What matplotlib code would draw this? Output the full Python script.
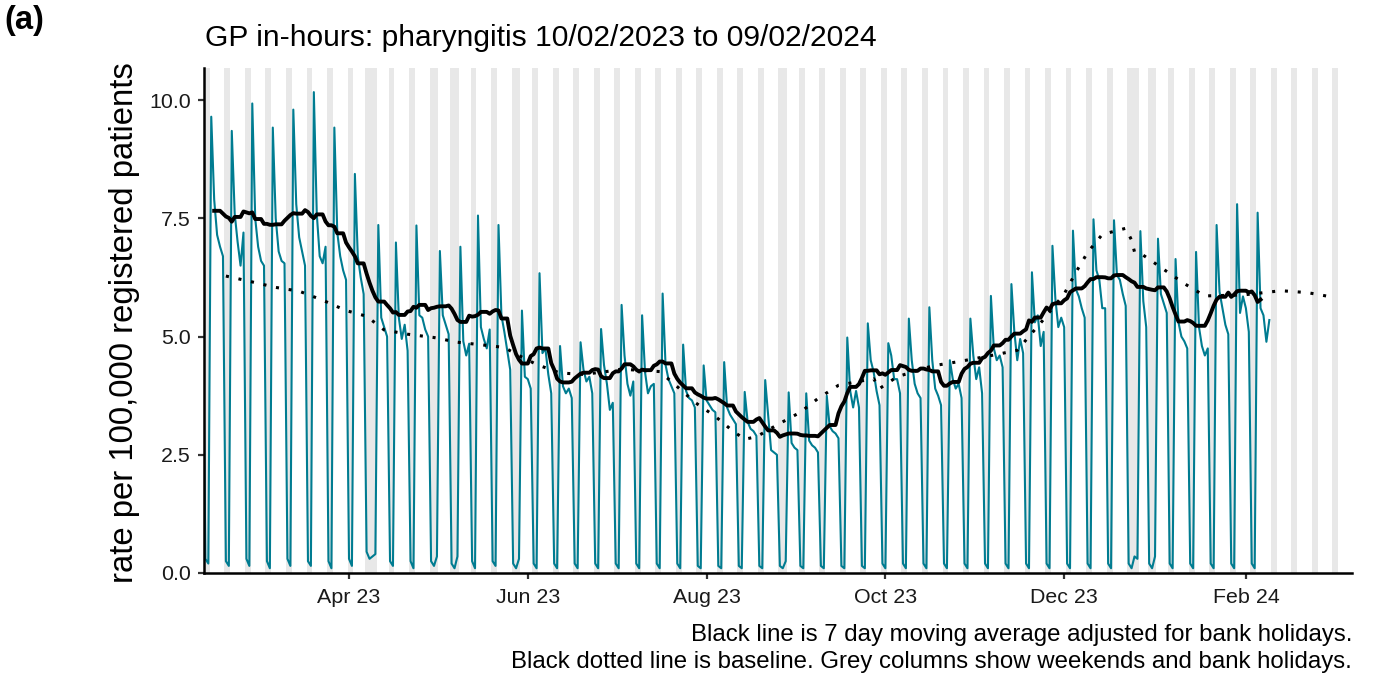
import numpy as np
import pandas as pd
import matplotlib
matplotlib.use("Agg")
import matplotlib.pyplot as plt
import matplotlib.dates as mdates

plt.rcParams['font.family'] = ['Liberation Sans', 'DejaVu Sans']

# ---------------- data ----------------
data_start = "2023-02-10"
# Fri 10 Feb, Sat 11 Feb, Sun 12 Feb
lead_days = [6.6, 0.3, 0.2]
# weekly values Mon..Sun, starting Mon 13 Feb 2023
weeks = [
    [9.65, 7.9, 7.15, 6.9, 6.7, 0.25, 0.15],
    [9.35, 7.6, 7.0, 6.5, 7.2, 0.3, 0.15],
    [9.93, 7.5, 6.9, 6.6, 6.5, 0.25, 0.1],
    [9.42, 7.5, 6.8, 6.6, 6.55, 0.3, 0.15],
    [9.80, 7.8, 7.1, 6.8, 6.5, 0.25, 0.15],
    [10.17, 7.6, 6.7, 6.55, 6.9, 0.25, 0.1],
    [9.42, 7.2, 6.7, 6.4, 6.2, 0.3, 0.15],
    [8.44, 6.7, 6.25, 5.9, 0.45, 0.3, 0.35],
    [0.4, 7.36, 5.4, 5.2, 5.0, 0.25, 0.15],
    [6.99, 5.4, 4.95, 5.25, 4.7, 0.25, 0.1],
    [7.35, 5.45, 5.4, 5.15, 5.0, 0.25, 0.15],
    [0.35, 6.81, 5.45, 5.25, 5.05, 0.2, 0.1],
    [0.35, 6.9, 4.9, 4.6, 4.85, 0.25, 0.1],
    [7.56, 5.2, 4.95, 4.75, 5.15, 0.25, 0.15],
    [7.36, 5.45, 5.1, 4.7, 4.3, 0.2, 0.1],
    [0.3, 5.55, 4.15, 4.1, 3.9, 0.2, 0.1],
    [6.34, 4.65, 4.75, 4.2, 3.8, 0.2, 0.1],
    [4.80, 3.95, 3.8, 3.9, 3.7, 0.2, 0.1],
    [4.88, 4.3, 4.05, 4.15, 3.8, 0.2, 0.1],
    [5.16, 4.4, 4.0, 3.45, 3.6, 0.2, 0.1],
    [5.67, 4.6, 4.0, 3.75, 4.05, 0.2, 0.1],
    [5.45, 4.25, 3.8, 3.95, 4.0, 0.2, 0.1],
    [5.91, 4.4, 4.1, 3.95, 3.8, 0.2, 0.1],
    [4.83, 3.85, 3.7, 3.65, 3.5, 0.15, 0.1],
    [4.39, 3.65, 3.55, 3.45, 3.4, 0.15, 0.1],
    [4.46, 3.5, 3.35, 3.25, 3.15, 0.15, 0.1],
    [3.83, 3.2, 3.05, 3.0, 2.9, 0.15, 0.1],
    [4.08, 3.35, 2.6, 2.55, 2.5, 0.15, 0.1],
    [0.25, 3.82, 2.75, 2.65, 2.6, 0.15, 0.1],
    [3.8, 2.8, 2.7, 2.65, 2.55, 0.15, 0.1],
    [3.75, 3.1, 3.0, 2.95, 2.85, 0.15, 0.1],
    [4.98, 3.85, 3.5, 3.85, 3.5, 0.15, 0.1],
    [5.28, 4.5, 4.25, 3.85, 3.55, 0.2, 0.1],
    [4.86, 4.6, 4.1, 4.1, 3.8, 0.2, 0.1],
    [5.38, 4.5, 4.0, 3.8, 3.7, 0.2, 0.1],
    [5.62, 4.5, 3.9, 3.75, 3.55, 0.2, 0.1],
    [4.50, 4.1, 3.9, 4.0, 3.7, 0.2, 0.1],
    [5.38, 4.6, 4.1, 4.35, 3.8, 0.2, 0.1],
    [5.86, 4.75, 4.5, 4.6, 4.35, 0.2, 0.1],
    [6.11, 5.1, 4.5, 4.95, 4.65, 0.2, 0.1],
    [6.36, 5.3, 5.45, 4.8, 5.1, 0.2, 0.1],
    [6.92, 5.8, 5.2, 5.4, 5.2, 0.2, 0.1],
    [7.24, 6.0, 5.85, 5.6, 5.4, 0.2, 0.1],
    [7.48, 6.4, 6.2, 5.6, 5.6, 0.2, 0.1],
    [7.46, 6.3, 6.2, 5.9, 5.65, 0.2, 0.1],
    [0.35, 0.3, 7.23, 5.75, 5.2, 0.2, 0.1],
    [0.35, 7.07, 5.9, 5.7, 5.5, 0.2, 0.1],
    [6.64, 5.3, 5.0, 4.9, 4.75, 0.2, 0.1],
    [6.79, 5.2, 4.8, 4.6, 4.75, 0.2, 0.1],
    [7.36, 5.95, 5.6, 5.25, 5.05, 0.2, 0.1],
    [7.80, 5.5, 5.85, 5.6, 5.1, 0.2, 0.1],
]
# Mon 5 Feb - Fri 9 Feb 2024
last_days = [7.62, 5.6, 5.45, 4.89, 5.35]

bank_holidays = ["2023-04-07", "2023-04-10", "2023-05-01", "2023-05-08",
                 "2023-05-29", "2023-08-28", "2023-12-25", "2023-12-26",
                 "2024-01-01"]
# bank-holiday adjusted values used for the moving average
# (bank holidays and the working day after them)
ma_adjust_dates = ["2023-04-07", "2023-04-10", "2023-04-11",
                   "2023-05-01", "2023-05-02", "2023-05-08", "2023-05-09",
                   "2023-05-29", "2023-05-30", "2023-08-28", "2023-08-29",
                   "2023-12-25", "2023-12-26", "2023-12-27",
                   "2024-01-01", "2024-01-02"]
ma_adjust_values = [5.45, 7.36, 5.74,
                    6.81, 5.64, 6.9, 5.3,
                    5.55, 4.45, 3.82, 2.93,
                    7.23, 6.1, 5.97,
                    7.07, 6.03]

baseline_dates = ['2023-02-18', '2023-02-26', '2023-03-07', '2023-03-15', '2023-03-23',
                  '2023-03-31', '2023-04-07', '2023-04-13', '2023-04-21', '2023-04-30',
                  '2023-05-08', '2023-05-17', '2023-05-24', '2023-05-28', '2023-06-04',
                  '2023-06-12', '2023-06-20', '2023-06-29', '2023-07-03', '2023-07-16',
                  '2023-07-22', '2023-07-28', '2023-08-04', '2023-08-10', '2023-08-14',
                  '2023-08-18', '2023-08-25', '2023-09-02', '2023-09-08', '2023-09-15',
                  '2023-09-27', '2023-09-29', '2023-10-05', '2023-10-17', '2023-10-26',
                  '2023-11-07', '2023-11-15', '2023-11-18', '2023-11-23', '2023-12-01',
                  '2023-12-05', '2023-12-09', '2023-12-14', '2023-12-22', '2023-12-24',
                  '2023-12-25', '2023-12-28', '2024-01-04', '2024-01-11', '2024-01-18',
                  '2024-01-31', '2024-02-13', '2024-02-22', '2024-03-02']
baseline_values = [6.28, 6.17, 6.04, 5.96, 5.77, 5.55, 5.43, 5.14, 5.05, 4.98,
                   4.88, 4.82, 4.77, 4.63, 4.41, 4.23, 4.20, 4.27, 4.31, 4.26,
                   3.94, 3.61, 3.31, 3.00, 2.83, 2.88, 3.13, 3.40, 3.69, 3.97,
                   4.11, 3.90, 4.15, 4.38, 4.47, 4.61, 4.71, 4.93, 5.29, 5.90,
                   6.36, 6.78, 7.16, 7.29, 7.04, 6.79, 6.72, 6.42, 6.12, 5.86,
                   5.88, 5.97, 5.93, 5.83]

shade_start, shade_end = "2023-02-11", "2024-03-03"
tick_dates = ["2023-04-01", "2023-06-01", "2023-08-01", "2023-10-01", "2023-12-01", "2024-02-01"]
tick_labels = ["Apr 23", "Jun 23", "Aug 23", "Oct 23", "Dec 23", "Feb 24"]
y_ticks = [0.0, 2.5, 5.0, 7.5, 10.0]

title = "GP in-hours: pharyngitis 10/02/2023 to 09/02/2024"
ylabel = "rate per 100,000 registered patients"
note1 = "Black line is 7 day moving average adjusted for bank holidays."
note2 = "Black dotted line is baseline. Grey columns show weekends and bank holidays."

# ---------------- build series ----------------
vals = list(lead_days) + [v for w in weeks for v in w] + list(last_days)
dates = pd.date_range(data_start, periods=len(vals), freq="D")
daily = pd.Series(vals, index=dates)
bh = pd.to_datetime(bank_holidays)
adjusted = daily.copy()
adjusted.loc[pd.to_datetime(ma_adjust_dates)] = ma_adjust_values
weekday = daily.index.weekday < 5
ma = adjusted.where(weekday).rolling(7, center=True, min_periods=1).mean()
ma.iloc[:4] = np.nan
ma.iloc[-3:] = np.nan

# ---------------- figure ----------------
W, H = 1386, 675
fig = plt.figure(figsize=(W / 100, H / 100), dpi=100)
L, R, T, B = 204, 1352, 68, 573
ax = fig.add_axes([L / W, (H - B) / H, (R - L) / W, (B - T) / H])

# grey columns
all_days = pd.date_range(shade_start, shade_end, freq="D")
bh_set = set(bh)
grey = [d for d in all_days if d.weekday() >= 5 or d in bh_set]
groups = []
for d in grey:
    if groups and (d - groups[-1][1]).days == 1:
        groups[-1][1] = d
    else:
        groups.append([d, d])
for a, b in groups:
    ax.axvspan(mdates.date2num(a) - 0.5, mdates.date2num(b) + 0.5,
               color="#E8E8E8", lw=0, zorder=0)

xd = mdates.date2num(daily.index)
ax.plot(xd, daily.values, color="#007C91", lw=1.5, zorder=2)
ax.plot(xd, ma.values, color="black", lw=2.8, zorder=3)
ax.plot(mdates.date2num(pd.to_datetime(baseline_dates)), baseline_values,
        color="black", lw=2.2, linestyle=(0, (1, 3.2)), zorder=4)

x0 = mdates.date2num(pd.Timestamp("2023-04-01")) + (L - 349) / 2.931
x1 = mdates.date2num(pd.Timestamp("2023-04-01")) + (R - 349) / 2.931
ax.set_xlim(x0, x1)
ax.set_ylim(0, 10.68)

ax.set_xticks(mdates.date2num(pd.to_datetime(tick_dates)))
ax.set_xticklabels(tick_labels)
ax.set_yticks(y_ticks)
ax.set_yticklabels([f"{v:.1f}" for v in y_ticks])

for s in ["top", "right"]:
    ax.spines[s].set_visible(False)
for s in ["left", "bottom"]:
    ax.spines[s].set_linewidth(1.8)
    ax.spines[s].set_color("black")
ax.tick_params(axis="both", length=4.5, width=1.6, color="#333333",
               labelsize=15.4, labelcolor="#1a1a1a")
ax.tick_params(axis="x", pad=6)
ax.tick_params(axis="y", pad=5)

fig.text(205 / W, 1 - 38 / H, title, fontsize=21.6, ha="left", va="center")
fig.text(4 / W, 1 - 20 / H, "(a)", fontsize=23.5, fontweight="bold", ha="left", va="center")
fig.text(125 / W, 1 - 323 / H, ylabel, fontsize=23.7, rotation=90, ha="center", va="center")
fig.text(R / W, 1 - 635 / H, note1, fontsize=17.3, ha="right", va="center")
fig.text(R / W, 1 - 662 / H, note2, fontsize=17.3, ha="right", va="center")

fig.savefig("out.png", dpi=100)
